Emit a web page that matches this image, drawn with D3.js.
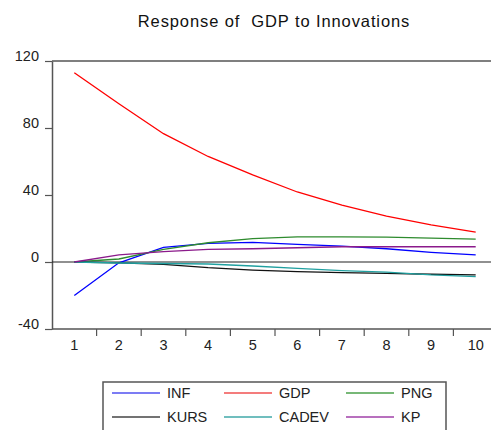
<!DOCTYPE html>
<html>
<head>
<meta charset="utf-8">
<script src="https://cdn.jsdelivr.net/npm/d3@7"></script>
<style>
  body { margin: 0; background: #fff; }
  svg { display: block; font-family: "Liberation Sans", Arial, sans-serif; }
</style>
</head>
<body>
<div id="chart"></div>
<script>
// periods and responses
const periods = [1, 2, 3, 4, 5, 6, 7, 8, 9, 10];
const yTicks = [-40, 0, 40, 80, 120];

const INF   = [-20, -0.5, 8.7, 11.1, 11.7, 10.5, 9.5, 7.9, 5.8, 4.2];
const GDP   = [113, 94.5, 76.6, 63, 52, 41.8, 33.9, 27.4, 22.2, 17.9];
const PNG   = [0, 1.8, 7.5, 11.5, 14, 15, 15, 14.8, 14.2, 13.7];
const KURS  = [0, -0.5, -1.4, -3.4, -4.8, -5.8, -6.4, -6.8, -7.3, -7.7];
const CADEV = [0, -0.6, -0.9, -1.2, -2.4, -3.8, -5.2, -6.1, -7.7, -8.7];
const KP    = [0, 4.2, 6.2, 7.5, 7.9, 8.5, 9.1, 9.1, 9.1, 9.1];

const series = [
  {name: "INF",   values: INF,   color: "#0000ff", legend: "#5050f0"},
  {name: "GDP",   values: GDP,   color: "#ff0000", legend: "#f05050"},
  {name: "PNG",   values: PNG,   color: "#2e8b2e", legend: "#4aa04a"},
  {name: "KURS",  values: KURS,  color: "#111111", legend: "#444444"},
  {name: "CADEV", values: CADEV, color: "#20a0a0", legend: "#40a8a8"},
  {name: "KP",    values: KP,    color: "#8b1a8b", legend: "#a040a8"}
];

const W = 491, H = 430;
const pLeft = 52, pRight = 498, pTop = 61, pBottom = 329;

const svg = d3.select("#chart").append("svg")
  .attr("width", W).attr("height", H);

// category bands: each period sits in the middle of its band
const xBand = d3.scaleBand().domain(periods).range([pLeft, pRight]);
const x = d => xBand(d) + xBand.bandwidth() / 2;
const y = d3.scaleLinear().domain([-40, 120]).range([pBottom, pTop]);

// title
svg.append("text")
  .attr("x", 274).attr("y", 27)
  .attr("text-anchor", "middle")
  .attr("font-size", 16.5)
  .attr("letter-spacing", 0.9)
  .attr("fill", "#111")
  .style("white-space", "pre")
  .text("Response of  GDP to Innovations");

// frame top
svg.append("line")
  .attr("x1", pLeft).attr("x2", W).attr("y1", pTop).attr("y2", pTop)
  .attr("stroke", "#555").attr("stroke-width", 1.5);

// y axis
const yAxis = svg.append("g")
  .attr("transform", "translate(" + pLeft + ",0)")
  .call(d3.axisLeft(y).tickValues(yTicks).tickSize(7).tickSizeOuter(0)
    .tickFormat(d => String(d)));
yAxis.select(".domain").attr("stroke", "#555").attr("stroke-width", 1.5);
yAxis.selectAll(".tick line").attr("stroke", "#555").attr("stroke-width", 1.2);
yAxis.selectAll(".tick text")
  .attr("font-size", 14.5).attr("fill", "#222")
  .attr("x", -13).attr("dy", "-0.05em")
  .attr("font-family", "Liberation Sans, Arial, sans-serif");

// x axis: ticks on band edges, labels in the middle
const xAxis = svg.append("g")
  .attr("transform", "translate(0," + pBottom + ")");
xAxis.append("line")
  .attr("x1", pLeft).attr("x2", W)
  .attr("stroke", "#555").attr("stroke-width", 1.5);
xAxis.selectAll(".xt")
  .data(periods.slice(1))
  .enter().append("line")
  .attr("x1", d => xBand(d)).attr("x2", d => xBand(d))
  .attr("y1", 0).attr("y2", 7)
  .attr("stroke", "#555").attr("stroke-width", 1.2);
xAxis.selectAll(".xl")
  .data(periods)
  .enter().append("text")
  .attr("x", d => x(d)).attr("y", 21)
  .attr("text-anchor", "middle")
  .attr("font-size", 14.5).attr("fill", "#222")
  .text(d => d);

// zero line
svg.append("line")
  .attr("x1", pLeft).attr("x2", W)
  .attr("y1", y(0)).attr("y2", y(0))
  .attr("stroke", "#222").attr("stroke-width", 1.2);

const line = d3.line()
  .x((d, i) => x(periods[i]))
  .y(d => y(d));

svg.selectAll(".series")
  .data(series)
  .enter().append("path")
  .attr("fill", "none")
  .attr("stroke", d => d.color)
  .attr("stroke-width", 1.3)
  .attr("d", d => line(d.values));

// legend
const lg = svg.append("g");
lg.append("rect")
  .attr("x", 103).attr("y", 382)
  .attr("width", 343).attr("height", 60)
  .attr("fill", "none").attr("stroke", "#555").attr("stroke-width", 1.5);

const colX = [112, 224, 346];
const rowY = [393, 417];
series.forEach((s, i) => {
  const cx = colX[i % 3], cy = rowY[Math.floor(i / 3)];
  lg.append("line")
    .attr("x1", cx).attr("x2", cx + 48)
    .attr("y1", cy).attr("y2", cy)
    .attr("stroke", s.legend).attr("stroke-width", 1.5);
  lg.append("text")
    .attr("x", cx + 55).attr("y", cy + 5)
    .attr("font-size", 14.5).attr("fill", "#222")
    .text(s.name);
});
</script>
</body>
</html>
